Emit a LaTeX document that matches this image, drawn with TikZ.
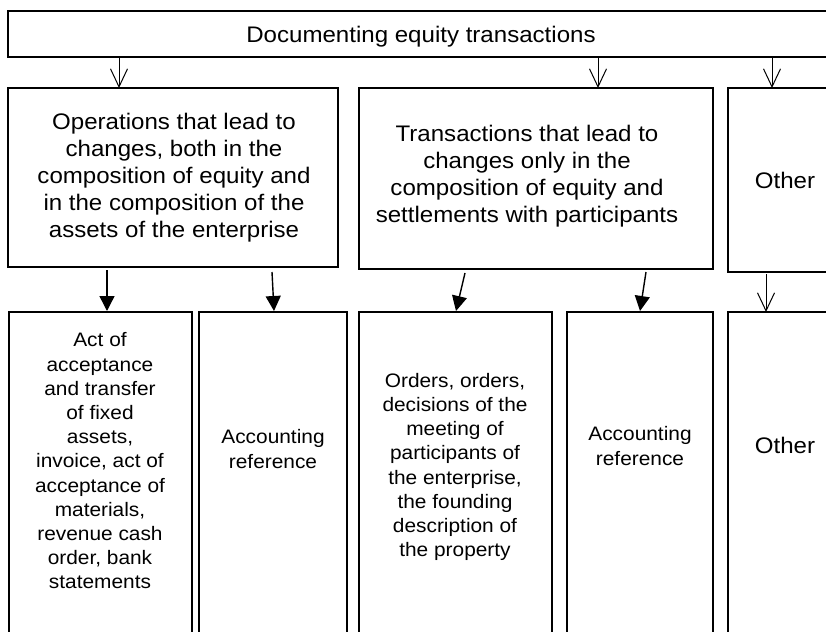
\documentclass[tikz,border=0pt]{standalone}
\usepackage{fontspec}
\setmainfont{Liberation Sans}[FakeStretch=1.07]
\usetikzlibrary{arrows.meta,calc}
\tikzset{
  x=1pt,y=-1pt,
  box/.style={draw=black,line width=1.8pt,anchor=north west,inner sep=0pt,outer sep=0pt},
  lvtwo/.style={align=center,font=\fontsize{22.5}{27}\selectfont,inner sep=0pt},
  lvthree/.style={align=center,font=\fontsize{19.5}{24.2}\selectfont,inner sep=0pt},
  openarr/.style={line width=1pt,-{Straight Barb[length=18pt,width=17pt,line width=1pt]}},
  fillarr/.style={line width=1.4pt,-{Triangle[length=15pt,width=15pt]}}
}
\begin{document}
\begin{tikzpicture}
\useasboundingbox (0,0) rectangle (826,631);
\clip (0,0) rectangle (826,631);
\fill[white] (0,0) rectangle (826,631);
% top
\node[box,minimum width=840pt,minimum height=46pt] (top) at (8,11) {};
\node[font=\fontsize{22.5}{27}\selectfont,anchor=base,inner sep=0pt] (toptext) at (421,43) {Documenting equity transactions};
% level two
\node[box,minimum width=330pt,minimum height=179pt] (b1) at (8,88) {};
\node[box,minimum width=354pt,minimum height=181pt] (b2) at (359,88) {};
\node[box,minimum width=120pt,minimum height=184pt] (b3) at (728,88) {};
\node[lvtwo] (t1) at (174,178) {Operations that lead to\\changes, both in the\\composition of equity and\\in the composition of the\\assets of the enterprise};
\node[lvtwo] (t2) at (527,176) {Transactions that lead to\\changes only in the\\composition of equity and\\settlements with participants};
\node[lvtwo] (t3) at (785,180) {Other};
% level three
\node[box,minimum width=183pt,minimum height=340pt] (bA) at (9,312) {};
\node[box,minimum width=148pt,minimum height=340pt] (bB) at (199,312) {};
\node[box,minimum width=193pt,minimum height=340pt] (bC) at (359,312) {};
\node[box,minimum width=146pt,minimum height=340pt] (bD) at (567,312) {};
\node[box,minimum width=120pt,minimum height=340pt] (bE) at (728,312) {};
\node[lvthree] (tA) at (100,461) {Act of\\acceptance\\and transfer\\of fixed\\assets,\\invoice, act of\\acceptance of\\materials,\\revenue cash\\order, bank\\statements};
\node[lvthree] (tB) at (273,449) {Accounting\\reference};
\node[lvthree] (tC) at (455,467) {Orders, orders,\\decisions of the\\meeting of\\participants of\\the enterprise,\\the founding\\description of\\the property};
\node[lvthree] (tD) at (640,446) {Accounting\\reference};
\node[lvtwo] (tE) at (785,445) {Other};
% arrows
\draw[openarr] ([xshift=111pt]top.south west) -- ([xshift=111pt]b1.north west);
\draw[openarr] ([xshift=590pt]top.south west) -- ([xshift=239pt]b2.north west);
\draw[openarr] ([xshift=764pt]top.south west) -- ([xshift=44pt]b3.north west);
\draw[fillarr] ([xshift=99pt,yshift=-3pt]b1.south west) -- ([xshift=98pt,yshift=1pt]bA.north west);
\draw[fillarr] ([xshift=264pt,yshift=-5pt]b1.south west) -- ([xshift=75pt,yshift=1pt]bB.north west);
\draw[fillarr] ([xshift=106pt,yshift=-4pt]b2.south west) -- ([xshift=97pt,yshift=1pt]bC.north west);
\draw[fillarr] ([xshift=287pt,yshift=-3pt]b2.south west) -- ([xshift=73pt,yshift=1pt]bD.north west);
\draw[openarr] ([xshift=38pt,yshift=-2pt]b3.south west) -- ([xshift=38pt]bE.north west);
\end{tikzpicture}
\end{document}
